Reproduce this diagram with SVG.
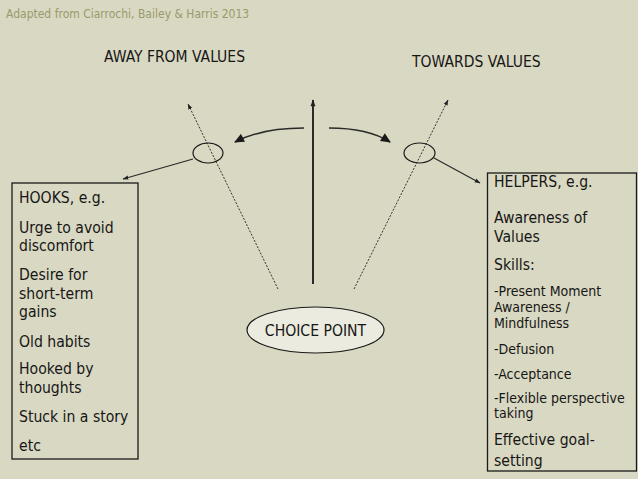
<svg xmlns="http://www.w3.org/2000/svg" width="638" height="479" viewBox="0 0 638 479">
<style>
  text { font-family: "DejaVu Sans Condensed", "DejaVu Sans", sans-serif; font-stretch: condensed; fill: #161616; }
  .attr { font-size: 12px; fill: #9a9a6c; }
  .head { font-size: 15.5px; }
  .big { font-size: 15.6px; }
  .small { font-size: 14px; }
  .box { fill: none; stroke: #1a1a1a; stroke-width: 1.3; }
  .dot { fill: none; stroke: #333; stroke-width: 1; stroke-dasharray: 2 1.5; }
  .solid { fill: none; stroke: #2a2a2a; }
</style>
<defs>
  <marker id="sm" viewBox="0 0 10 10" refX="9" refY="5" markerWidth="6" markerHeight="6" orient="auto" markerUnits="userSpaceOnUse">
    <path d="M0,1.5 L10,5 L0,8.5 z" fill="#222"/>
  </marker>
  <marker id="md" viewBox="0 0 10 10" refX="9" refY="5" markerWidth="8" markerHeight="7" orient="auto" markerUnits="userSpaceOnUse">
    <path d="M0,1.5 L10,5 L0,8.5 z" fill="#222"/>
  </marker>
  <marker id="lg" viewBox="0 0 10 10" refX="9" refY="5" markerWidth="11" markerHeight="10" orient="auto" markerUnits="userSpaceOnUse">
    <path d="M0,0.5 L10,5 L0,9.5 z" fill="#1a1a1a"/>
  </marker>
</defs>
<rect x="0" y="0" width="638" height="479" fill="#d9d8c2"/>

<text class="attr" x="6" y="18">Adapted from Ciarrochi, Bailey &amp; Harris 2013</text>

<g id="away-label"><text class="head" x="104" y="62">AWAY FROM VALUES</text></g>
<g id="towards-label"><text class="head" x="412" y="67">TOWARDS VALUES</text></g>

<g id="connectors">
  <path class="dot" d="M278,289 L188,104" marker-end="url(#sm)"/>
  <path class="dot" d="M354,289 L448,100" marker-end="url(#sm)"/>
  <path class="solid" stroke-width="2" d="M313,284 L313,100" marker-end="url(#md)"/>
  <path class="solid" stroke-width="1.5" d="M304,128 Q262,128 235,142" marker-end="url(#lg)"/>
  <path class="solid" stroke-width="1.5" d="M329,128 Q368,128 390,142" marker-end="url(#lg)"/>
  <path class="solid" stroke-width="1.2" d="M193,159 L123,179" marker-end="url(#sm)"/>
  <path class="solid" stroke-width="1.2" d="M434,158 L480,183" marker-end="url(#sm)"/>
</g>

<g id="away-choice"><ellipse cx="208" cy="153" rx="15" ry="10" fill="none" stroke="#1a1a1a" stroke-width="1.2"/></g>
<g id="towards-choice"><ellipse cx="419.5" cy="153" rx="15.5" ry="10" fill="none" stroke="#1a1a1a" stroke-width="1.2"/></g>

<g id="choice-point">
  <ellipse cx="315.5" cy="330" rx="68.5" ry="23" fill="#ebebdf" stroke="#1a1a1a" stroke-width="1.2"/>
  <text class="big" x="315.5" y="336" text-anchor="middle">CHOICE POINT</text>
</g>

<g id="hooks">
  <rect class="box" x="12" y="183" width="126" height="276"/>
  <text class="big" x="19" y="203">HOOKS, e.g.</text>
  <text class="big" x="19" y="233">Urge to avoid</text>
  <text class="big" x="19" y="251">discomfort</text>
  <text class="big" x="19" y="280">Desire for</text>
  <text class="big" x="19" y="299">short-term</text>
  <text class="big" x="19" y="317">gains</text>
  <text class="big" x="19" y="347">Old habits</text>
  <text class="big" x="19" y="374">Hooked by</text>
  <text class="big" x="19" y="393">thoughts</text>
  <text class="big" x="19" y="422">Stuck in a story</text>
  <text class="big" x="19" y="451">etc</text>
</g>

<g id="helpers">
  <rect class="box" x="487.5" y="173" width="149" height="298"/>
  <text class="big" x="494" y="187">HELPERS, e.g.</text>
  <text class="big" x="494" y="223">Awareness of</text>
  <text class="big" x="494" y="242">Values</text>
  <text class="big" x="494" y="270">Skills:</text>
  <text class="small" x="494" y="296">-Present Moment</text>
  <text class="small" x="494" y="312">Awareness /</text>
  <text class="small" x="494" y="328">Mindfulness</text>
  <text class="small" x="494" y="354">-Defusion</text>
  <text class="small" x="494" y="379">-Acceptance</text>
  <text class="small" x="494" y="403">-Flexible perspective</text>
  <text class="small" x="494" y="418">taking</text>
  <text class="big" x="494" y="445">Effective goal-</text>
  <text class="big" x="494" y="466">setting</text>
</g>
</svg>
